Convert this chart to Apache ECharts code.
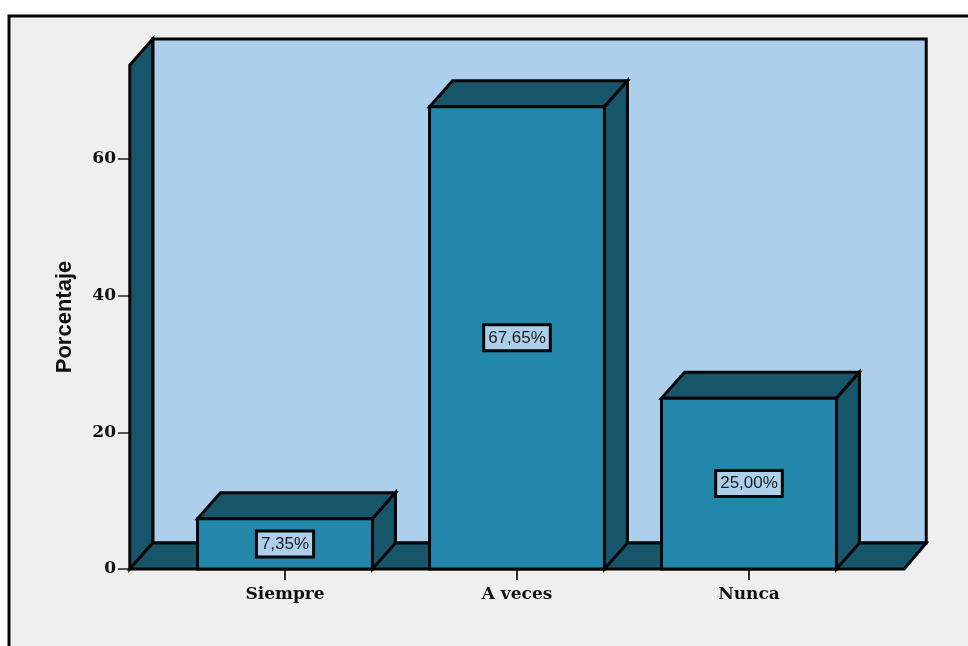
<!DOCTYPE html>
<html>
<head>
<meta charset="utf-8">
<style>html,body{margin:0;padding:0;background:#fff}#c{width:968px;height:646px}</style>
<script src="https://cdn.jsdelivr.net/npm/echarts@6/dist/echarts.min.js"></script>
</head>
<body>
<div id="c"></div>
<script>
const categories = ['Siempre', 'A veces', 'Nunca'];
const percentages = [7.35, 67.65, 25.00];
const barLabels = ['7,35%', '67,65%', '25,00%'];
const yTicks = [0, 20, 40, 60];
const yTop = 73.76;

const DEPTH_X = 23, DEPTH_Y = 26;
const COL_FRONT = '#2387ab', COL_DARK = '#17566a', COL_WALL = '#accfec', COL_BG = '#efefef', COL_LINE = '#050505';
const LW = 3;

function poly(points, fill) {
  return { type: 'polygon', shape: { points }, style: { fill, stroke: COL_LINE, lineWidth: LW, lineJoin: 'miter' } };
}

function renderChamber(params, api) {
  const band = api.size([1, 0])[0];
  const pad = band * 0.669;
  const x0 = api.coord([0, 0])[0] - pad;
  const x1 = api.coord([categories.length - 1, 0])[0] + pad;
  const yb = api.coord([0, 0])[1];
  const yt = api.coord([0, yTop])[1];
  const dx = DEPTH_X, dy = DEPTH_Y;
  return { type: 'group', children: [
    poly([[x0 + dx, yt - dy], [x1 + dx - 1, yt - dy], [x1 + dx - 1, yb - dy], [x0 + dx, yb - dy]], COL_WALL),
    poly([[x0, yt], [x0 + dx, yt - dy], [x0 + dx, yb - dy], [x0, yb]], COL_DARK),
    poly([[x0, yb], [x0 + dx, yb - dy], [x1 + dx - 1, yb - dy], [x1, yb]], COL_DARK)
  ]};
}

function renderBar(params, api) {
  const idx = api.value(0), v = api.value(1);
  const w = api.size([1, 0])[0] * 0.754;
  const base = api.coord([idx, 0]);
  const top = api.coord([idx, v]);
  const mid = api.coord([idx, v / 2]);
  const l = base[0] - w / 2, r = base[0] + w / 2, yb = base[1], yt = top[1];
  const dx = DEPTH_X, dy = DEPTH_Y;
  return { type: 'group', children: [
    poly([[l, yt], [l + dx, yt - dy], [r + dx, yt - dy], [r, yt]], COL_DARK),
    poly([[r, yt], [r + dx, yt - dy], [r + dx, yb - dy], [r, yb]], COL_DARK),
    poly([[l, yb], [l, yt], [r, yt], [r, yb]], COL_FRONT),
    { type: 'text', style: {
        x: mid[0], y: mid[1], text: barLabels[params.dataIndex],
        align: 'center', verticalAlign: 'middle',
        font: '17px "Liberation Sans"', fill: '#1a1a1a',
        backgroundColor: COL_WALL, borderColor: COL_LINE, borderWidth: LW,
        padding: [3, 3, 3, 3]
    } }
  ]};
}

const chart = echarts.init(document.getElementById('c'), null, { renderer: 'canvas' });
chart.setOption({
  animation: false,
  backgroundColor: '#ffffff',
  graphic: { elements: [{
    type: 'rect', z: -100, silent: true,
    shape: { x: 9, y: 16, width: 1000, height: 700 },
    style: { fill: COL_BG, stroke: COL_LINE, lineWidth: 3 }
  }]},
  grid: { left: 169, top: 65, width: 696, height: 504 },
  xAxis: {
    type: 'category', data: categories,
    axisLine: { show: false },
    axisTick: { show: true, alignWithLabel: true, length: 11, lineStyle: { color: '#333', width: 2 } },
    axisLabel: { margin: 17, color: '#111', fontFamily: 'DejaVu Serif', fontWeight: 'bold', fontSize: 17 }
  },
  yAxis: {
    type: 'value', min: 0, max: yTop, offset: 39,
    name: 'Porcentaje', nameLocation: 'middle', nameGap: 54, nameRotate: 90,
    nameTextStyle: { fontFamily: 'Liberation Sans', fontWeight: 'bold', fontSize: 22, color: '#111' },
    axisLine: { show: false },
    axisTick: { show: true, length: 12, customValues: yTicks, lineStyle: { color: '#222', width: 1.5 } },
    axisLabel: { margin: 14, color: '#111', customValues: yTicks, fontFamily: 'DejaVu Serif', fontWeight: 'bold', fontSize: 17 },
    splitLine: { show: false }
  },
  series: [
    { type: 'custom', coordinateSystem: 'cartesian2d', clip: false, z: 1, silent: true, renderItem: renderChamber, data: [[0, 0]], encode: { x: 0, y: 1 } },
    { type: 'custom', coordinateSystem: 'cartesian2d', clip: false, z: 2, silent: true, renderItem: renderBar,
      data: percentages.map((v, i) => [i, v]), encode: { x: 0, y: 1 } }
  ]
});
</script>
</body>
</html>
